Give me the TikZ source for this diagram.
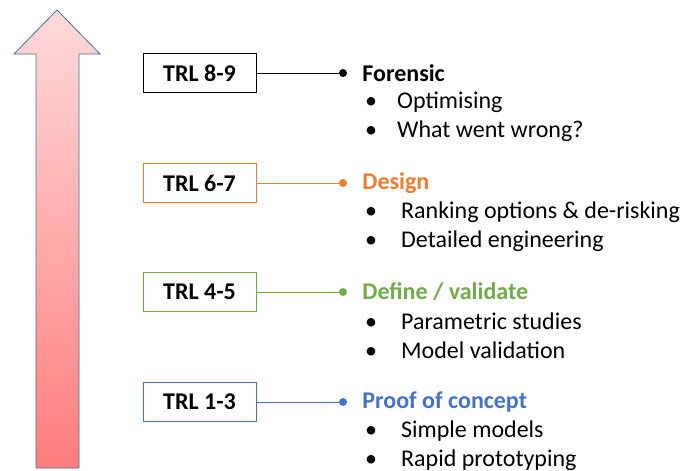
\documentclass[tikz,border=0pt]{standalone}
\usepackage{fontspec}
\setmainfont{Carlito}
\usetikzlibrary{positioning}

\definecolor{orangeTRL}{RGB}{237,125,49}
\definecolor{greenTRL}{RGB}{112,173,71}
\definecolor{blueTRL}{RGB}{68,114,196}
\definecolor{arrowEdge}{RGB}{65,113,156}

\tikzset{
  trlbox/.style={draw, thick, minimum width=113pt, minimum height=39pt, inner sep=0pt, font=\fontsize{24}{28}\selectfont\bfseries},
  trldot/.style={circle, fill, inner sep=0pt, minimum size=8pt},
  heading/.style={anchor=west, inner sep=0pt, font=\fontsize{24}{28}\selectfont\bfseries},
  item/.style={anchor=west, inner sep=0pt, font=\fontsize{24}{28}\selectfont}
}

\begin{document}
\begin{tikzpicture}[x=1pt, y=-1pt]
\useasboundingbox (0,0) rectangle (696,471);
% big arrow
\draw[arrowEdge, thick, top color={rgb,255:red,255;green,218;blue,218}, bottom color={rgb,255:red,255;green,125;blue,125}]
  (36,468) -- (36,54) -- (14,54) -- (57,10) -- (100,54) -- (79,54) -- (79,468) -- cycle;

\node[trlbox] (t89) at (199.5,73) {TRL 8-9};
\node[trldot] (d89) at (343,73) {};
\draw (t89.east) -- (d89);
\node[heading, right=15pt of d89] (h89) {Forensic};
\node[item] (i89a) at (362,102) {\makebox[35pt][l]{\hspace{3pt}•}Optimising};
\node[item] (i89b) at (362,131) {\makebox[35pt][l]{\hspace{3pt}•}What went wrong?};

\node[trlbox, orangeTRL, text=black] (t67) at (199.5,183) {TRL 6-7};
\node[trldot, orangeTRL] (d67) at (343,183) {};
\draw[orangeTRL] (t67.east) -- (d67);
\node[heading, orangeTRL, right=15pt of d67] (h67) {Design};
\node[item] (i67a) at (362,212) {\makebox[39pt][l]{\hspace{3pt}•}Ranking options \& de-risking};
\node[item] (i67b) at (362,241) {\makebox[39pt][l]{\hspace{3pt}•}Detailed engineering};

\node[trlbox, greenTRL, text=black] (t45) at (199.5,292) {TRL 4-5};
\node[trldot, greenTRL] (d45) at (343,292) {};
\draw[greenTRL] (t45.east) -- (d45);
\node[heading, greenTRL, right=15pt of d45] (h45) {Define / validate};
\node[item] (i45a) at (362,321) {\makebox[39pt][l]{\hspace{3pt}•}Parametric studies};
\node[item] (i45b) at (362,350) {\makebox[39pt][l]{\hspace{3pt}•}Model validation};

\node[trlbox, blueTRL, text=black] (t13) at (199.5,402) {TRL 1-3};
\node[trldot, blueTRL] (d13) at (343,402) {};
\draw[blueTRL] (t13.east) -- (d13);
\node[heading, blueTRL, right=15pt of d13] (h13) {Proof of concept};
\node[item] (i13a) at (362,431) {\makebox[39pt][l]{\hspace{3pt}•}Simple models};
\node[item] (i13b) at (362,460) {\makebox[39pt][l]{\hspace{3pt}•}Rapid prototyping};
\end{tikzpicture}
\end{document}
